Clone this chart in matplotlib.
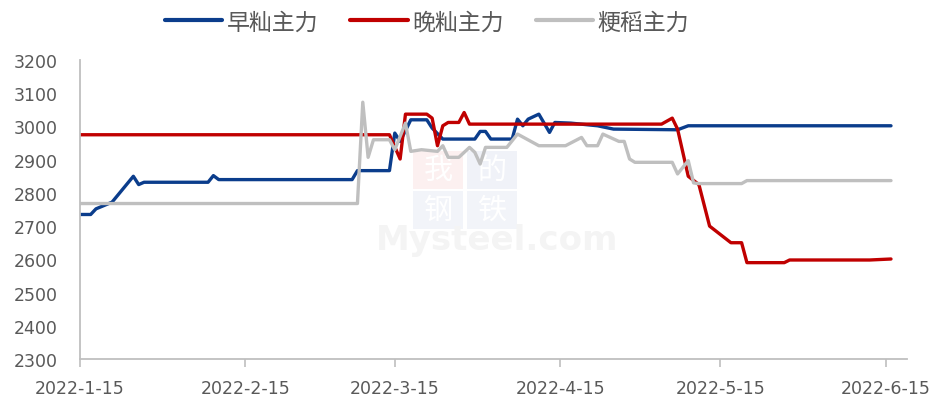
import matplotlib
matplotlib.use("Agg")
import matplotlib.pyplot as plt
from matplotlib.patches import Rectangle
import pandas as pd

# ---- data ----
early_dates = ["2022-01-15","2022-01-17","2022-01-18","2022-01-21","2022-01-25","2022-01-26","2022-01-27",
               "2022-02-08","2022-02-09","2022-02-10","2022-03-07","2022-03-08","2022-03-14","2022-03-15",
               "2022-03-16","2022-03-18","2022-03-21","2022-03-22","2022-03-24","2022-03-30","2022-03-31",
               "2022-04-01","2022-04-02","2022-04-06","2022-04-07","2022-04-08","2022-04-09","2022-04-11",
               "2022-04-13","2022-04-14","2022-04-17","2022-04-22","2022-04-25","2022-05-07","2022-05-09",
               "2022-06-16"]
early_vals = [2735,2735,2752,2772,2850,2825,2832,2832,2852,2840,2840,2867,2867,2980,2955,3020,3020,2995,
              2962,2962,2985,2985,2962,2962,3022,3002,3022,3037,2982,3012,3010,3002,2992,2990,3002,3002]

late_dates = ["2022-01-15","2022-03-14","2022-03-16","2022-03-17","2022-03-21","2022-03-22","2022-03-23",
              "2022-03-24","2022-03-25","2022-03-27","2022-03-28","2022-03-29","2022-05-04","2022-05-06",
              "2022-05-07","2022-05-09","2022-05-11","2022-05-13","2022-05-17","2022-05-19","2022-05-20",
              "2022-05-27","2022-05-28","2022-06-12","2022-06-16"]
late_vals = [2975,2975,2902,3037,3037,3025,2942,3002,3012,3012,3042,3007,3007,3025,2992,2850,2825,2700,
             2650,2650,2590,2590,2598,2598,2601]

japonica_dates = ["2022-01-15","2022-03-08","2022-03-09","2022-03-10","2022-03-11","2022-03-14","2022-03-15",
                  "2022-03-17","2022-03-18","2022-03-20","2022-03-23","2022-03-24","2022-03-25","2022-03-27",
                  "2022-03-29","2022-03-30","2022-03-31","2022-04-01","2022-04-05","2022-04-07","2022-04-11",
                  "2022-04-16","2022-04-19","2022-04-20","2022-04-22","2022-04-23","2022-04-26","2022-04-27",
                  "2022-04-28","2022-04-29","2022-05-06","2022-05-07","2022-05-08","2022-05-09","2022-05-10",
                  "2022-05-11","2022-05-19","2022-05-20","2022-06-16"]
japonica_vals = [2768,2768,3073,2907,2960,2960,2930,3010,2925,2930,2925,2942,2907,2907,2937,2922,2887,2937,
                 2937,2977,2942,2942,2967,2942,2942,2977,2955,2955,2902,2892,2892,2857,2877,2897,2830,2828,
                 2828,2837,2837]

series_names = ["早籼主力", "晚籼主力", "粳稻主力"]
tick_dates = ["2022-01-15","2022-02-15","2022-03-15","2022-04-15","2022-05-15","2022-06-15"]
tick_labels = ["2022-1-15","2022-2-15","2022-3-15","2022-4-15","2022-5-15","2022-6-15"]
y_ticks = [2300,2400,2500,2600,2700,2800,2900,3000,3100,3200]

colors = ["#0B3D8C", "#C00000", "#BFBFBF"]

W, H = 942, 406
fig = plt.figure(figsize=(W/100, H/100), dpi=100)
ax = fig.add_axes([80/W, 1-360/H, (907-80)/W, (360-61)/H])
ax.set_facecolor("none")

# ---- watermark (behind) ----
wm_boxes = [(413, 152, "#FCF0F0", "我"), (467, 152, "#F0F2F8", "的"),
            (413, 192, "#F2F4F9", "钢"), (467, 192, "#F2F4F9", "铁")]
for bx, by, bc, ch in wm_boxes:
    fig.patches.append(Rectangle((bx/W, 1-(by+38)/H), 50/W, 38/H, transform=fig.transFigure,
                                 facecolor=bc, edgecolor="none", zorder=-2))
    fig.text((bx+25)/W, 1-(by+19)/H, ch, fontsize=21, color="white", ha="center", va="center",
             family=["Noto Sans CJK SC"], zorder=-1)
fig.text(497/W, 1-250/H, "Mysteel.com", fontsize=24.5, fontweight="bold", color="#F4F4F4",
         ha="center", va="baseline", family=["DejaVu Sans"], zorder=-1)

# ---- lines ----
all_series = [(early_dates, early_vals), (late_dates, late_vals), (japonica_dates, japonica_vals)]
for (d, v), name, c in zip(all_series, series_names, colors):
    ax.plot(pd.to_datetime(d), v, color=c, lw=2.4, label=name, solid_joinstyle="round",
            solid_capstyle="round")

ax.set_xlim(pd.Timestamp("2022-01-15"), pd.Timestamp("2022-06-19"))
ax.set_ylim(2300, 3200)
ax.set_yticks(y_ticks)
ax.set_xticks(pd.to_datetime(tick_dates))
ax.set_xticklabels(tick_labels)

for s in ["top", "right"]:
    ax.spines[s].set_visible(False)
for s in ["left", "bottom"]:
    ax.spines[s].set_color("#BFBFBF")
    ax.spines[s].set_linewidth(1.3)

ax.tick_params(axis="y", length=0, pad=16, labelsize=12.5, labelcolor="#595959")
ax.tick_params(axis="x", length=5.5, width=1.2, color="#BFBFBF", pad=9, labelsize=12.5,
               labelcolor="#595959")
for lab in ax.get_xticklabels() + ax.get_yticklabels():
    lab.set_family(["DejaVu Sans"])

leg = fig.legend(loc="center", bbox_to_anchor=(427/W, 1-23/H), ncol=3, frameon=False,
                 prop={"family": ["Noto Sans CJK SC", "DejaVu Sans"], "size": 16.5},
                 handlelength=2.5, handletextpad=0.2, columnspacing=1.4, borderaxespad=0)
for t in leg.get_texts():
    t.set_color("#595959")
for l in leg.get_lines():
    l.set_linewidth(3)

fig.savefig("out.png", dpi=100)
